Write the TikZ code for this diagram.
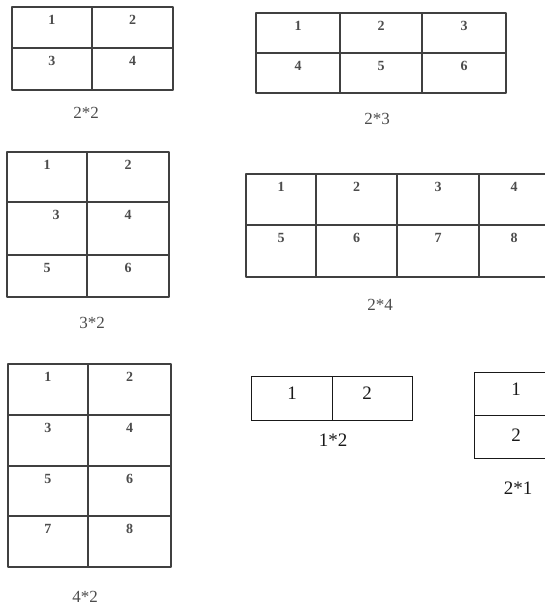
\documentclass[tikz,border=0pt]{standalone}
\usepackage{fontspec}
\setmainfont{Liberation Serif}

\begin{document}
\begin{tikzpicture}[
  x=1pt,y=-1pt,
  grid/.style={draw=black!75,line width=1.6pt,line join=round},
  thingrid/.style={draw=black!90,line width=1pt},
  num/.style={font=\fontsize{14}{14}\selectfont\bfseries,text=black!70,inner sep=0pt},
  bignum/.style={font=\fontsize{19}{19}\selectfont,text=black!90,inner sep=0pt},
  caption/.style={font=\fontsize{17}{17}\selectfont,text=black!70,inner sep=0pt}
]
  \useasboundingbox (0,0) rectangle (545,606);

  % 2*2
  \draw[grid] (12,7) rectangle (173,90) (92,7) -- (92,90) (12,48) -- (173,48);
  \foreach \n/\x/\y in {1/52/19.5,2/132.5/19.5,3/52/60.5,4/132.5/60.5}
    \node[num] (a\n) at (\x,\y) {\n};
  \node[caption] (capa) at (86,113) {2*2};

  % 2*3
  \draw[grid] (256,13) rectangle (506,93) (340,13) -- (340,93) (422,13) -- (422,93)
    (256,53) -- (506,53);
  \foreach \n/\x/\y in {1/298/25.5,2/381/25.5,3/464/25.5,4/298/65.5,5/381/65.5,6/464/65.5}
    \node[num] (b\n) at (\x,\y) {\n};
  \node[caption] (capb) at (377,119) {2*3};

  % 3*2
  \draw[grid] (7,152) rectangle (169,297) (87,152) -- (87,297)
    (7,202) -- (169,202) (7,255) -- (169,255);
  \foreach \n/\x/\y in {1/47/164.5,2/128/164.5,3/56/214.5,4/128/214.5,5/47/267.5,6/128/267.5}
    \node[num] (c\n) at (\x,\y) {\n};
  \node[caption] (capc) at (92,323) {3*2};

  % 2*4
  \draw[grid] (246,174) rectangle (549,277) (316,174) -- (316,277) (397,174) -- (397,277)
    (479,174) -- (479,277) (246,225) -- (549,225);
  \foreach \n/\x/\y in {1/281/186.5,2/356.5/186.5,3/438/186.5,4/514/186.5,
                        5/281/237.5,6/356.5/237.5,7/438/237.5,8/514/237.5}
    \node[num] (d\n) at (\x,\y) {\n};
  \node[caption] (capd) at (380,305) {2*4};

  % 4*2
  \draw[grid] (8,364) rectangle (171,567) (88,364) -- (88,567)
    (8,415) -- (171,415) (8,466) -- (171,466) (8,516) -- (171,516);
  \foreach \n/\x/\y in {1/48/376.5,2/129.5/376.5,3/48/427.5,4/129.5/427.5,
                        5/48/478.5,6/129.5/478.5,7/48/528.5,8/129.5/528.5}
    \node[num] (e\n) at (\x,\y) {\n};
  \node[caption] (cape) at (85,597) {4*2};

  % 1*2
  \draw[thingrid] (251,376) rectangle (412,420) (332,376) -- (332,420);
  \node[bignum] (f1) at (292,393) {1};
  \node[bignum] (f2) at (367,393) {2};
  \node[caption,font=\fontsize{19}{19}\selectfont,text=black!90] (capf) at (333,440) {1*2};

  % 2*1
  \draw[thingrid] (474,372) rectangle (557,458) (474,415) -- (557,415);
  \node[bignum] (g1) at (516,389) {1};
  \node[bignum] (g2) at (516,435) {2};
  \node[caption,font=\fontsize{19}{19}\selectfont,text=black!90] (capg) at (518,488) {2*1};
\end{tikzpicture}
\end{document}
